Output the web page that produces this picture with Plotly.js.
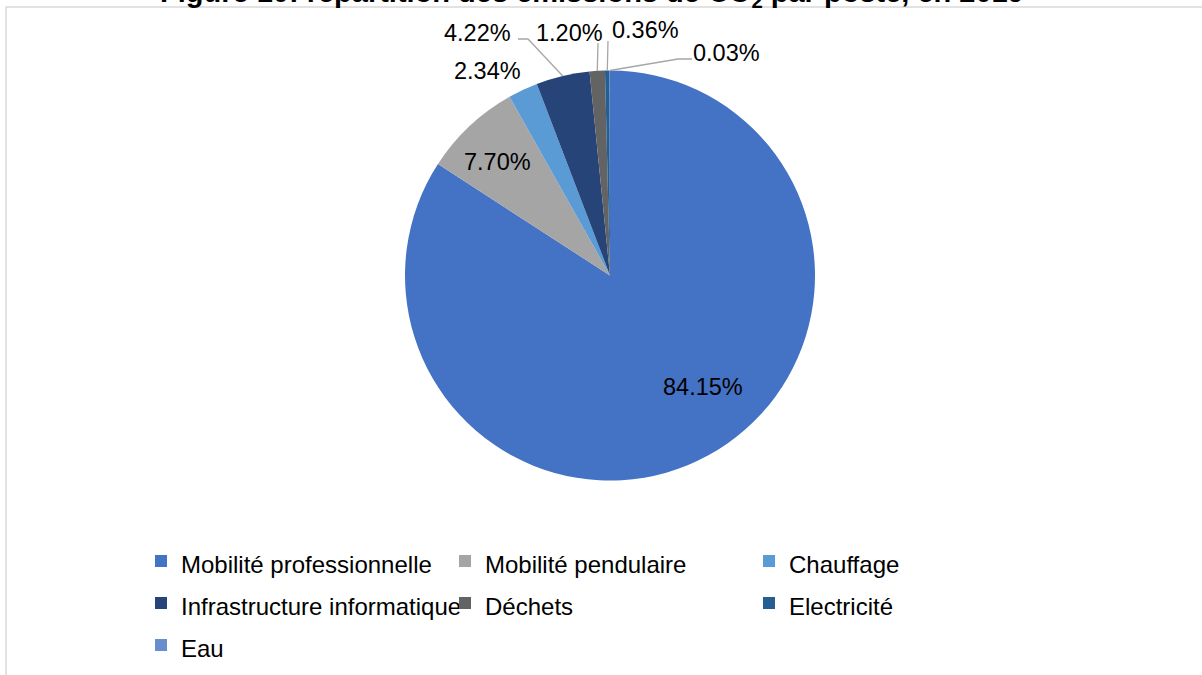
<!DOCTYPE html>
<html>
<head>
<meta charset="utf-8">
<script src="https://cdn.plot.ly/plotly-3.0.1.min.js"></script>
<style>html,body{margin:0;padding:0;background:#fff;}#chart{width:1202px;height:675px;}</style>
</head>
<body>
<div id="chart"></div>
<script>
// ---- data ----
const categories = ['Mobilité professionnelle', 'Mobilité pendulaire', 'Chauffage', 'Infrastructure informatique', 'Déchets', 'Electricité', 'Eau'];
const shares = [84.15, 7.70, 2.34, 4.22, 1.20, 0.36, 0.03];
const colors = ['#4472C4', '#A5A5A5', '#5B9BD5', '#264478', '#636363', '#255E91', '#698ED0'];
const titleText = '<b>Figure 10: répartition des émissions de CO<sub>2</sub> par poste, en 2019</b>';

// ---- layout constants (pixels) ----
const W = 1202, H = 675;
const ML = 100, MR = 102, MT = 0, MB = 0;
const GW = W - ML - MR, GH = H - MT - MB;
const CX = 610, CY = 275.5, R = 205;
const FONT = 'Liberation Sans, Arial, sans-serif';
const LABEL_SIZE = 23.5;

// data-label placement: text centre + leader line points (null = no line)
const labelPlacement = [
  {tx: 703, ty: 387, path: null},
  {tx: 497, ty: 162, path: null},
  {tx: 487, ty: 71, path: null},
  {tx: 477, ty: 33, path: [[518, 39], [528, 39]]},
  {tx: 569, ty: 33, path: [[598, 43]]},
  {tx: 645, ty: 30, path: [[608, 41]]},
  {tx: 726, ty: 53, path: [[692, 59], [678, 59]]}
];

const px2x = p => (p - ML) / GW;
const px2y = p => 1 - (p - MT) / GH;

const total = shares.reduce((a, b) => a + b, 0);
let cum = 0;
const mids = shares.map(v => { const m = (cum + v / 2) / total; cum += v; return m; });

const annotations = [];
const shapes = [];
labelPlacement.forEach((o, i) => {
  annotations.push({
    xref: 'paper', yref: 'paper', x: px2x(o.tx), y: px2y(o.ty),
    xanchor: 'center', yanchor: 'middle', showarrow: false,
    text: (shares[i] / total * 100).toFixed(2) + '%',
    font: {family: FONT, size: LABEL_SIZE, color: '#000'}
  });
  if (o.path) {
    const a = 2 * Math.PI * mids[i];
    const ex = CX + R * Math.sin(a), ey = CY - R * Math.cos(a);
    const pts = [[ex, ey]].concat(o.path.slice().reverse());
    const d = pts.map((p, j) => (j ? 'L' : 'M') + px2x(p[0]) + ',' + px2y(p[1])).join(' ');
    shapes.push({type: 'path', xref: 'paper', yref: 'paper', path: d,
      line: {color: '#A6A6A6', width: 1.3}});
  }
});

// title (clipped at the top, as in the reference)
annotations.push({
  xref: 'paper', yref: 'paper', x: px2x(592), y: px2y(14),
  xanchor: 'center', yanchor: 'bottom', showarrow: false,
  text: titleText, font: {family: FONT, size: 29, color: '#000'}
});

// chart frame (partially outside the page)
shapes.push({type: 'rect', xref: 'paper', yref: 'paper', layer: 'below',
  x0: px2x(6), x1: px2x(1230), y0: px2y(7), y1: px2y(700),
  line: {color: '#D9D9D9', width: 1.5}, fillcolor: 'rgba(0,0,0,0)'});

const trace = {
  type: 'pie',
  labels: categories.map(c => '<span style="font-size:24px">' + c + '</span>'),
  values: shares,
  sort: false,
  direction: 'clockwise',
  rotation: 0,
  marker: {colors: colors, line: {width: 0}},
  textinfo: 'none',
  hoverinfo: 'label+percent',
  domain: {x: [px2x(CX - R), px2x(CX + R)], y: [px2y(CY + R), px2y(CY - R)]}
};

const layout = {
  width: W, height: H,
  margin: {l: ML, r: MR, t: MT, b: MB},
  paper_bgcolor: '#fff', plot_bgcolor: '#fff',
  font: {family: FONT, color: '#000'},
  showlegend: true,
  legend: {
    orientation: 'h', x: px2x(141), xanchor: 'left', y: px2y(535), yanchor: 'top',
    entrywidth: 259, entrywidthmode: 'pixels',
    font: {family: FONT, size: 30, color: '#000'},
    traceorder: 'normal'
  },
  annotations: annotations,
  shapes: shapes
};

Plotly.newPlot('chart', [trace], layout, {displayModeBar: false, staticPlot: true});
</script>
</body>
</html>
